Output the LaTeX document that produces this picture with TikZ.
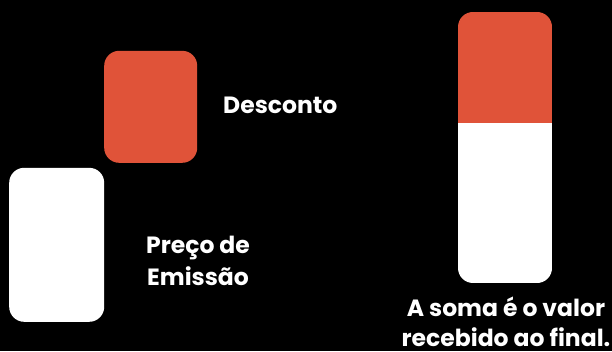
\documentclass[tikz,border=0pt]{standalone}
\usepackage{fontspec}
\setmainfont{Poppins}
\definecolor{accent}{RGB}{224,83,57}
\begin{document}
\begin{tikzpicture}[x=1pt,y=1pt,
  lbl/.style={text=white,font=\bfseries\fontsize{23.5}{32}\selectfont,inner sep=0pt},
  blk/.style={rounded corners=15pt,inner sep=0pt,draw=none}]
\fill[black] (0,0) rectangle (612,351);
\useasboundingbox (0,0) rectangle (612,351);
% left blocks
\node[blk,fill=accent,minimum width=93pt,minimum height=112pt,anchor=south west] (disc) at (104,188) {};
\node[blk,fill=white,minimum width=95pt,minimum height=154pt,anchor=south west] (price) at (9,29) {};
\node[lbl,anchor=base west] (disclbl) at (223,237) {Desconto};
\node[lbl,anchor=base,align=center] (pricelbl) at (198,66) {Preço de\\Emissão};
% right bar
\begin{scope}
\clip[rounded corners=15pt] (458,68) rectangle (552,339);
\fill[white] (458,68) rectangle (552,228);
\fill[accent] (458,228) rectangle (552,339);
\end{scope}
\coordinate (bar) at (505,68);
\node[lbl,anchor=base,align=center,font=\bfseries\fontsize{23.5}{30}\selectfont] (sumlbl) at (506,4.5) {A soma é o valor\\recebido ao final.};
\end{tikzpicture}
\end{document}
